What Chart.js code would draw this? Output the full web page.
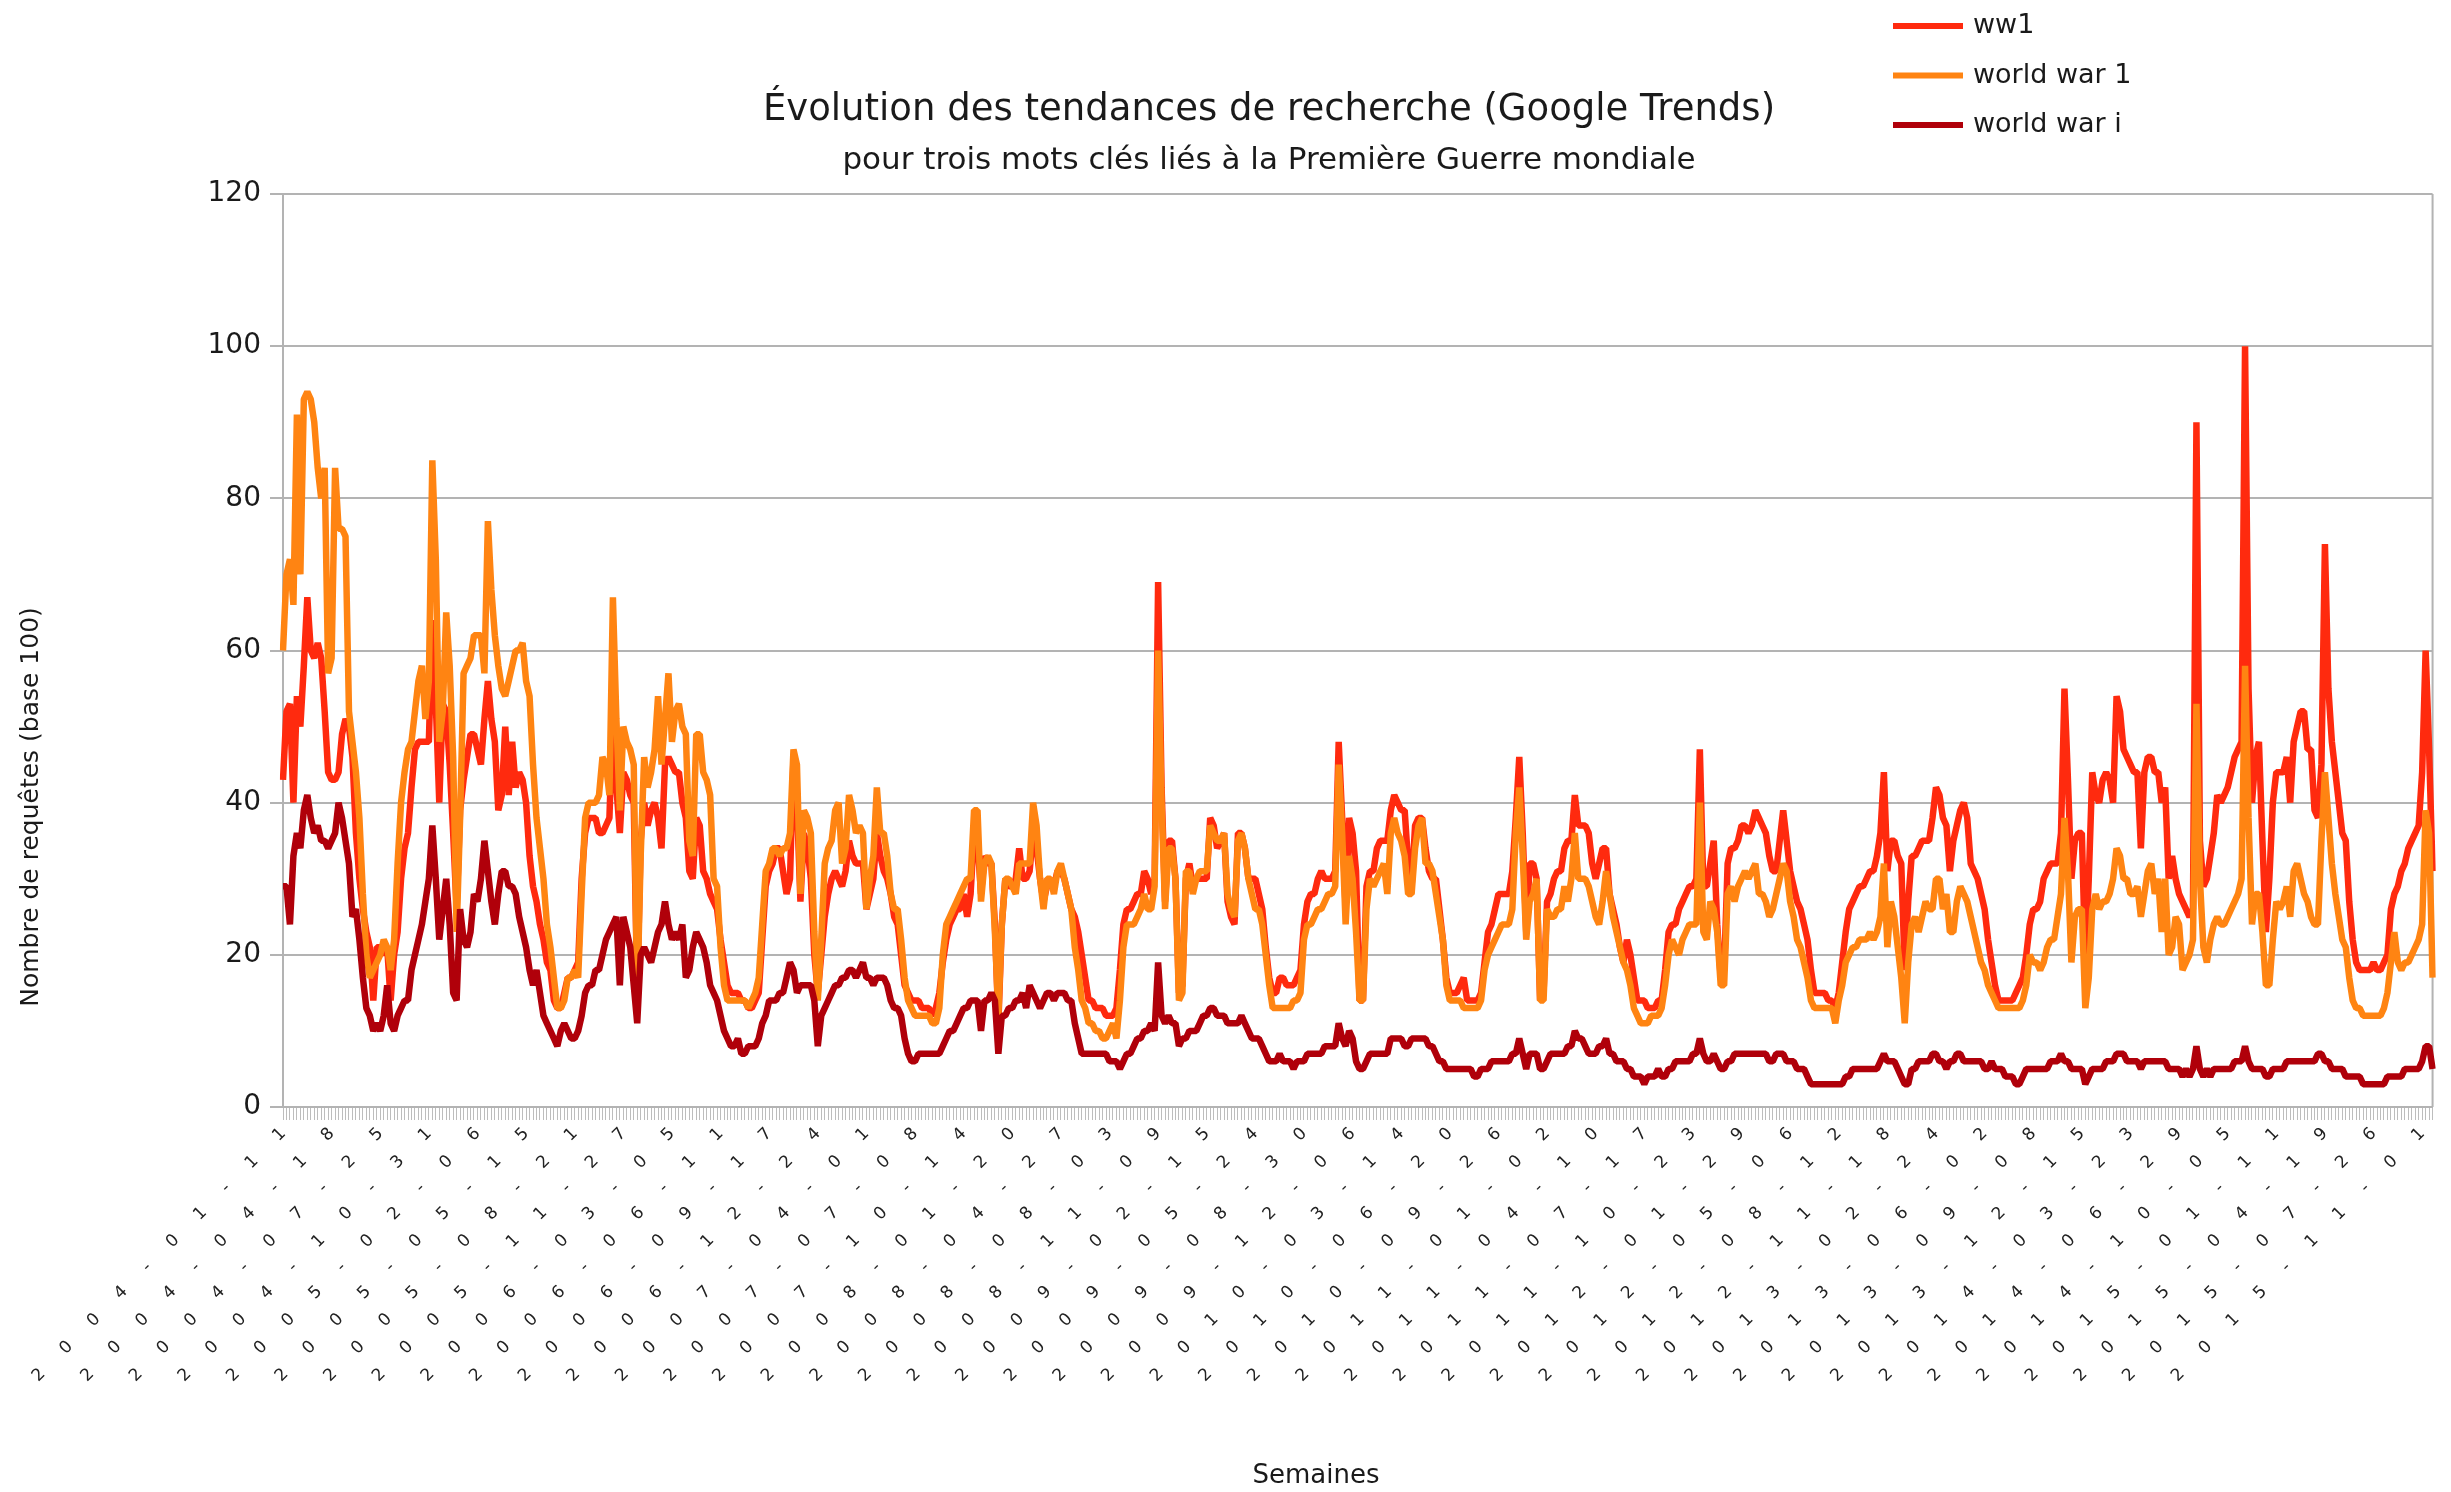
<!DOCTYPE html>
<html>
<head>
<meta charset="utf-8">
<title>Évolution des tendances de recherche (Google Trends)</title>
<script src="https://cdn.jsdelivr.net/npm/chart.js@4.4.1/dist/chart.umd.min.js"></script>
<style>
  html, body { margin: 0; padding: 0; background: #ffffff; }
  #chart { display: block; }
</style>
</head>
<body>
<canvas id="chart" width="2451" height="1492" style="width:2451px;height:1492px"></canvas>
<script>
// Weekly Google Trends values (base 100), one entry per week from 2004-01-11
const ww1 = [
  43, 52, 53, 40, 54, 50, 58, 67, 60, 59, 61, 59, 52, 44, 43, 43, 44, 49, 51, 50,
  46, 36, 30, 26, 23, 21, 14, 21, 21, 20, 21, 14, 20, 23, 30, 34, 36, 42, 47, 48,
  48, 48, 48, 64, 53, 40, 53, 52, 45, 36, 26, 39, 43, 46, 49, 49, 47, 45, 51, 56,
  51, 48, 39, 41, 50, 41, 48, 42, 44, 43, 40, 33, 29, 27, 24, 22, 19, 18, 14, 13,
  13, 15, 17, 17, 18, 19, 30, 36, 38, 38, 38, 36, 36, 37, 38, 52, 42, 36, 44, 43,
  41, 40, 15, 35, 40, 37, 39, 40, 38, 34, 45, 46, 45, 44, 44, 40, 38, 31, 30, 38,
  37, 31, 30, 28, 27, 26, 22, 19, 16, 15, 15, 15, 14, 14, 13, 13, 14, 15, 22, 29,
  31, 32, 34, 34, 31, 28, 30, 46, 40, 27, 36, 34, 30, 20, 15, 20, 25, 28, 30, 31,
  30, 29, 31, 35, 33, 32, 32, 32, 26, 28, 30, 36, 33, 31, 30, 28, 25, 24, 20, 16,
  15, 14, 14, 14, 13, 13, 13, 12, 13, 15, 19, 22, 24, 25, 26, 26, 28, 25, 28, 36,
  35, 28, 33, 32, 32, 24, 11, 24, 30, 29, 29, 30, 34, 30, 30, 31, 36, 34, 30, 27,
  29, 30, 29, 31, 31, 30, 28, 26, 25, 23, 20, 17, 14, 14, 13, 13, 13, 12, 12, 12,
  13, 18, 24, 26, 26, 27, 28, 28, 31, 30, 28, 30, 69, 42, 27, 35, 35, 30, 15, 16,
  30, 32, 29, 30, 30, 30, 30, 38, 37, 34, 35, 36, 27, 25, 24, 36, 36, 34, 30, 30,
  30, 28, 26, 21, 17, 15, 15, 17, 17, 16, 16, 16, 17, 18, 24, 27, 28, 28, 30, 31,
  30, 30, 30, 31, 48, 38, 26, 38, 36, 31, 14, 14, 29, 31, 31, 34, 35, 35, 35, 39,
  41, 40, 39, 39, 32, 29, 37, 38, 38, 34, 31, 30, 30, 26, 22, 17, 15, 15, 15, 16,
  17, 14, 14, 14, 14, 15, 19, 23, 24, 26, 28, 28, 28, 28, 31, 38, 46, 36, 23, 32,
  32, 30, 14, 15, 27, 28, 30, 31, 31, 34, 35, 35, 41, 37, 37, 37, 36, 32, 30, 32,
  34, 34, 28, 26, 24, 21, 19, 22, 20, 17, 14, 14, 14, 13, 13, 13, 14, 14, 18, 23,
  24, 24, 26, 27, 28, 29, 29, 30, 47, 29, 29, 32, 35, 24, 17, 18, 32, 34, 34, 35,
  37, 37, 36, 37, 39, 38, 37, 36, 33, 31, 31, 35, 39, 35, 31, 29, 27, 26, 24, 22,
  18, 15, 15, 15, 15, 14, 14, 13, 15, 19, 23, 26, 27, 28, 29, 29, 30, 31, 31, 33,
  36, 44, 31, 35, 35, 33, 32, 18, 27, 33, 33, 34, 35, 35, 35, 38, 42, 41, 38, 37,
  31, 35, 37, 39, 40, 38, 32, 31, 30, 28, 26, 22, 19, 16, 14, 14, 14, 14, 14, 15,
  16, 17, 20, 24, 26, 26, 27, 30, 31, 32, 32, 32, 36, 55, 43, 30, 35, 36, 36, 19,
  30, 44, 41, 40, 43, 44, 43, 40, 54, 52, 47, 46, 45, 44, 44, 34, 44, 46, 46, 44,
  44, 40, 42, 30, 33, 30, 28, 27, 26, 25, 26, 90, 35, 29, 30, 33, 36, 41, 40, 41,
  42, 44, 46, 47, 48, 100, 55, 40, 46, 48, 35, 23, 30, 40, 44, 44, 44, 46, 40, 48,
  50, 52, 52, 47, 47, 39, 38, 45, 74, 55, 48, 44, 40, 36, 35, 27, 22, 19, 18, 18,
  18, 18, 19, 18, 18, 19, 20, 26, 28, 29, 31, 32, 34, 35, 36, 37, 44, 60, 47, 31
];
const worldWar1 = [
  60, 70, 72, 66, 91, 70, 93, 94, 93, 90, 84, 80, 84, 57, 59, 84, 76, 76, 75, 52,
  48, 44, 38, 28, 20, 17, 18, 19, 20, 22, 21, 18, 22, 32, 40, 44, 47, 48, 52, 56,
  58, 51, 56, 85, 72, 48, 52, 65, 58, 46, 23, 38, 57, 58, 59, 62, 62, 62, 57, 77,
  68, 62, 58, 55, 54, 56, 58, 60, 60, 61, 56, 54, 45, 38, 34, 30, 24, 21, 17, 13,
  13, 14, 17, 17, 18, 17, 28, 38, 40, 40, 40, 41, 46, 45, 41, 67, 51, 39, 50, 48,
  47, 45, 14, 33, 46, 42, 44, 47, 54, 45, 51, 57, 48, 52, 53, 50, 49, 35, 33, 49,
  49, 44, 43, 41, 30, 29, 21, 16, 14, 14, 14, 14, 14, 14, 13, 14, 15, 17, 24, 31,
  32, 34, 34, 33, 34, 34, 36, 47, 45, 28, 39, 38, 36, 23, 14, 22, 32, 34, 35, 39,
  40, 32, 34, 41, 39, 36, 37, 36, 26, 30, 33, 42, 36, 36, 33, 28, 26, 26, 22, 17,
  14, 13, 12, 12, 12, 12, 12, 11, 11, 13, 20, 24, 25, 26, 27, 28, 29, 30, 30, 39,
  39, 27, 32, 33, 32, 23, 12, 24, 30, 30, 29, 28, 32, 32, 32, 32, 40, 37, 30, 26,
  30, 30, 28, 31, 32, 30, 28, 26, 21, 18, 14, 13, 11, 11, 10, 10, 9, 9, 10, 11,
  9, 14, 21, 24, 24, 24, 25, 26, 28, 26, 26, 29, 60, 40, 26, 34, 34, 30, 14, 15,
  31, 31, 28, 30, 31, 31, 31, 37, 36, 35, 35, 36, 28, 26, 25, 35, 36, 34, 30, 28,
  26, 26, 24, 20, 16, 13, 13, 13, 13, 13, 13, 14, 14, 15, 22, 24, 24, 25, 26, 26,
  27, 28, 28, 29, 45, 36, 24, 33, 30, 23, 14, 14, 26, 30, 29, 30, 31, 32, 28, 36,
  38, 36, 35, 33, 28, 28, 34, 37, 38, 32, 32, 31, 28, 25, 22, 16, 14, 14, 14, 14,
  13, 13, 13, 13, 13, 14, 18, 20, 21, 22, 23, 24, 24, 24, 26, 36, 42, 33, 22, 27,
  28, 30, 14, 14, 26, 25, 25, 26, 26, 29, 27, 30, 36, 30, 30, 30, 29, 27, 25, 24,
  27, 31, 28, 25, 23, 21, 19, 18, 16, 13, 12, 11, 11, 11, 12, 12, 12, 13, 16, 20,
  22, 21, 20, 22, 23, 24, 24, 24, 40, 23, 22, 27, 26, 23, 16, 16, 28, 29, 27, 29,
  30, 31, 30, 31, 32, 28, 28, 27, 25, 26, 28, 30, 32, 31, 27, 25, 22, 21, 19, 17,
  14, 13, 13, 13, 13, 13, 13, 11, 14, 16, 19, 20, 21, 21, 22, 22, 22, 23, 22, 23,
  25, 32, 21, 27, 25, 21, 17, 11, 19, 24, 25, 23, 25, 27, 26, 26, 30, 30, 26, 28,
  23, 23, 27, 29, 28, 27, 25, 23, 21, 19, 18, 16, 15, 14, 13, 13, 13, 13, 13, 13,
  13, 14, 16, 20, 19, 19, 18, 19, 21, 22, 22, 25, 28, 38, 31, 19, 25, 26, 26, 13,
  17, 26, 28, 26, 27, 27, 28, 30, 34, 33, 30, 30, 28, 28, 29, 25, 28, 31, 32, 28,
  30, 23, 30, 20, 21, 25, 24, 18, 19, 20, 22, 53, 30, 21, 19, 22, 24, 25, 24, 24,
  25, 26, 27, 28, 30, 58, 38, 24, 28, 28, 23, 16, 16, 22, 27, 26, 27, 29, 25, 31,
  32, 30, 28, 27, 25, 24, 24, 35, 44, 38, 32, 28, 25, 22, 21, 17, 14, 13, 13, 12,
  12, 12, 12, 12, 12, 13, 15, 19, 23, 19, 18, 19, 19, 20, 21, 22, 24, 39, 36, 17
];
const worldWarI = [
  29, 29, 24, 33, 36, 34, 39, 41, 38, 36, 37, 35, 35, 34, 35, 36, 40, 38, 35, 32,
  25, 26, 22, 17, 13, 12, 10, 11, 10, 12, 16, 11, 10, 12, 13, 14, 14, 18, 20, 22,
  24, 27, 30, 37, 30, 22, 26, 30, 24, 15, 14, 26, 22, 21, 23, 28, 27, 30, 35, 31,
  27, 24, 28, 31, 31, 29, 29, 28, 25, 23, 21, 18, 16, 18, 15, 12, 11, 10, 9, 8,
  10, 11, 10, 9, 9, 10, 12, 15, 16, 16, 18, 18, 20, 22, 23, 24, 25, 16, 25, 23,
  21, 16, 11, 20, 21, 20, 19, 21, 23, 24, 27, 24, 22, 23, 22, 24, 17, 18, 21, 23,
  22, 21, 19, 16, 15, 14, 12, 10, 9, 8, 8, 9, 7, 7, 8, 8, 8, 9, 11, 12,
  14, 14, 14, 15, 15, 17, 19, 18, 15, 16, 16, 16, 16, 14, 8, 12, 13, 14, 15, 16,
  16, 17, 17, 18, 18, 17, 18, 19, 17, 17, 16, 17, 17, 17, 16, 14, 13, 13, 12, 9,
  7, 6, 6, 7, 7, 7, 7, 7, 7, 7, 8, 9, 10, 10, 11, 12, 13, 13, 14, 14,
  14, 10, 14, 14, 15, 14, 7, 12, 12, 13, 13, 14, 14, 15, 13, 16, 15, 14, 13, 14,
  15, 15, 14, 15, 15, 15, 14, 14, 11, 9, 7, 7, 7, 7, 7, 7, 7, 7, 6, 6,
  6, 5, 6, 7, 7, 8, 9, 9, 10, 10, 11, 10, 19, 12, 11, 12, 11, 11, 8, 9,
  9, 10, 10, 10, 11, 12, 12, 13, 13, 12, 12, 12, 11, 11, 11, 11, 12, 11, 10, 9,
  9, 9, 8, 7, 6, 6, 6, 7, 6, 6, 6, 5, 6, 6, 6, 7, 7, 7, 7, 7,
  8, 8, 8, 8, 11, 9, 8, 10, 9, 6, 5, 5, 6, 7, 7, 7, 7, 7, 7, 9,
  9, 9, 9, 8, 8, 9, 9, 9, 9, 9, 8, 8, 7, 6, 6, 5, 5, 5, 5, 5,
  5, 5, 5, 4, 4, 5, 5, 5, 6, 6, 6, 6, 6, 6, 7, 7, 9, 7, 5, 7,
  7, 7, 5, 5, 6, 7, 7, 7, 7, 7, 8, 8, 10, 9, 9, 8, 7, 7, 7, 8,
  8, 9, 7, 7, 6, 6, 6, 5, 5, 4, 4, 4, 3, 4, 4, 4, 5, 4, 4, 5,
  5, 6, 6, 6, 6, 6, 7, 7, 9, 7, 6, 6, 7, 6, 5, 5, 6, 6, 7, 7,
  7, 7, 7, 7, 7, 7, 7, 7, 6, 6, 7, 7, 7, 6, 6, 6, 5, 5, 5, 4,
  3, 3, 3, 3, 3, 3, 3, 3, 3, 3, 4, 4, 5, 5, 5, 5, 5, 5, 5, 5,
  6, 7, 6, 6, 6, 5, 4, 3, 3, 5, 5, 6, 6, 6, 6, 7, 7, 6, 6, 5,
  6, 6, 7, 7, 6, 6, 6, 6, 6, 6, 5, 5, 6, 5, 5, 5, 4, 4, 4, 3,
  3, 4, 5, 5, 5, 5, 5, 5, 5, 6, 6, 6, 7, 6, 6, 5, 5, 5, 5, 3,
  4, 5, 5, 5, 5, 6, 6, 6, 7, 7, 7, 6, 6, 6, 6, 5, 6, 6, 6, 6,
  6, 6, 6, 5, 5, 5, 5, 4, 5, 4, 5, 8, 5, 4, 5, 4, 5, 5, 5, 5,
  5, 5, 6, 6, 6, 8, 6, 5, 5, 5, 5, 4, 4, 5, 5, 5, 5, 6, 6, 6,
  6, 6, 6, 6, 6, 6, 7, 7, 6, 6, 5, 5, 5, 5, 4, 4, 4, 4, 4, 3,
  3, 3, 3, 3, 3, 3, 4, 4, 4, 4, 4, 5, 5, 5, 5, 5, 6, 8, 8, 5
];
const seriesNames = ['ww1', 'world war 1', 'world war i'];
const seriesColors = ['#ff2a0e', '#ff8412', '#b0000a'];

// Dates printed under the x axis (every 14 weeks)
const tickLabels = [
  '2004-01-11', '2004-04-18', '2004-07-25', '2004-10-31', '2005-02-06', '2005-05-15',
  '2005-08-21', '2005-11-27', '2006-03-05', '2006-06-11', '2006-09-17', '2006-12-24',
  '2007-04-01', '2007-07-08', '2007-10-14', '2008-01-20', '2008-04-27', '2008-08-03',
  '2008-11-09', '2009-02-15', '2009-05-24', '2009-08-30', '2009-12-06', '2010-03-14',
  '2010-06-20', '2010-09-26', '2011-01-02', '2011-04-10', '2011-07-17', '2011-10-23',
  '2012-01-29', '2012-05-06', '2012-08-12', '2012-11-18', '2013-02-24', '2013-06-02',
  '2013-09-08', '2013-12-15', '2014-03-23', '2014-06-29', '2014-10-05', '2015-01-11',
  '2015-04-19', '2015-07-26', '2015-11-01'
];
const yTicks = [0, 20, 40, 60, 80, 100, 120];

const titleText = 'Évolution des tendances de recherche (Google Trends)';
const subtitleText = 'pour trois mots clés liés à la Première Guerre mondiale';
const yTitle = 'Nombre de requêtes (base 100)';
const xTitle = 'Semaines';

const FONT = '"DejaVu Sans", "Liberation Sans", sans-serif';
const GRID = '#b3b3b3';
const INK = '#1a1a1a';

// one category per week
const start = Date.UTC(2004, 0, 11);
const weeks = ww1.map((_, i) => new Date(start + i * 7 * 86400000).toISOString().slice(0, 10));

// spread the rotated date labels like the original rendering
const xLabelSpacing = {
    id: 'xLabelSpacing',
    beforeDraw(chart) {
        const xs = chart.scales.x;
        if (xs._spaced) return;
        const orig = xs.drawLabels;
        xs.drawLabels = function(area) {
            const c = this.ctx;
            c.save();
            c.letterSpacing = '28px';
            c.translate(20, -20);
            orig.call(this, area);
            c.restore();
        };
        xs._spaced = true;
    }
};

// right edge of the plot frame
const frame = {
    id: 'frame',
    beforeDatasetsDraw(chart) {
        const a = chart.chartArea;
        const c = chart.ctx;
        c.save();
        c.strokeStyle = GRID;
        c.lineWidth = 2;
        c.beginPath();
        c.moveTo(a.right, a.top);
        c.lineTo(a.right, a.bottom);
        c.stroke();
        c.restore();
    }
};

// titles, legend and axis names
const chartText = {
    id: 'chartText',
    afterDraw(chart) {
        const c = chart.ctx;
        c.save();
        c.fillStyle = INK;
        c.textBaseline = 'middle';
        c.textAlign = 'center';
        c.font = `37px ${FONT}`;
        c.fillText(titleText, 1269, 110);
        c.font = `31px ${FONT}`;
        c.fillText(subtitleText, 1269, 161);

        c.font = `26px ${FONT}`;
        c.fillText(xTitle, 1316, 1476);

        c.save();
        c.translate(31, 807);
        c.rotate(-Math.PI / 2);
        c.font = `25px ${FONT}`;
        c.fillText(yTitle, 0, 0);
        c.restore();

        c.textAlign = 'left';
        c.font = `27px ${FONT}`;
        chart.data.datasets.forEach((ds, i) => {
            const y = 26 + i * 49.5;
            c.strokeStyle = ds.borderColor;
            c.lineWidth = 6;
            c.beginPath();
            c.moveTo(1893, y);
            c.lineTo(1963, y);
            c.stroke();
            c.fillStyle = INK;
            c.fillText(ds.label, 1973, y);
        });
        c.restore();
    }
};

const values = [ww1, worldWar1, worldWarI];

new Chart(document.getElementById('chart'), {
    type: 'line',
    data: {
        labels: weeks,
        datasets: values.map((v, i) => ({
            label: seriesNames[i],
            data: v,
            borderColor: seriesColors[i],
            backgroundColor: seriesColors[i],
            order: 3 - i
        }))
    },
    options: {
        responsive: false,
        animation: false,
        devicePixelRatio: 1,
        layout: { padding: { left: 0, top: 194, right: 14, bottom: 0 } },
        elements: {
            point: { radius: 0 },
            line: { borderWidth: 6.5, tension: 0, borderJoinStyle: 'bevel' }
        },
        plugins: {
            legend: { display: false },
            title: { display: false },
            tooltip: { enabled: false }
        },
        scales: {
            x: {
                type: 'category',
                offset: false,
                grid: { drawOnChartArea: false, drawTicks: true, tickLength: 13, color: '#bdbdbd', lineWidth: 1 },
                border: { color: GRID, width: 2 },
                ticks: {
                    autoSkip: false,
                    minRotation: 45,
                    maxRotation: 45,
                    padding: 4,
                    color: '#222222',
                    font: { family: FONT, size: 17 },
                    callback: function(value) {
                        const d = this.getLabelForValue(value);
                        return tickLabels.includes(d) ? d : '';
                    }
                },
                afterFit: s => { s.height = 385; }
            },
            y: {
                min: 0,
                max: 120,
                afterBuildTicks: s => { s.ticks = yTicks.map(v => ({ value: v })); },
                grid: { color: GRID, lineWidth: 2, tickLength: 13 },
                border: { color: GRID, width: 2 },
                ticks: { padding: 9, color: INK, font: { family: FONT, size: 28 } },
                afterFit: s => { s.width = 283; }
            }
        }
    },
    plugins: [xLabelSpacing, frame, chartText]
});
</script>
</body>
</html>
